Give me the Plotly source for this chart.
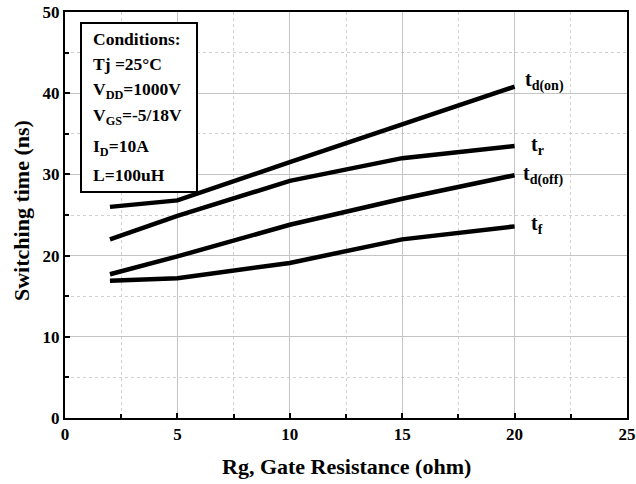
import plotly.graph_objects as go

rg = [2, 5, 10, 15, 20]
t_d_on = [26.0, 26.8, 31.5, 36.2, 40.8]
t_r = [22.0, 24.9, 29.2, 32.0, 33.5]
t_d_off = [17.7, 19.9, 23.8, 27.0, 29.9]
t_f = [16.9, 17.2, 19.1, 22.0, 23.6]

series = [
    ("t<sub>d(on)</sub>", t_d_on, 8, 6),
    ("t<sub>r</sub>", t_r, 14, 0),
    ("t<sub>d(off)</sub>", t_d_off, 6, 0),
    ("t<sub>f</sub>", t_f, 14, 2),
]

conditions = [
    "Conditions:",
    "Tj =25°C",
    "V<sub>DD</sub>=1000V",
    "V<sub>GS</sub>=-5/18V",
    "I<sub>D</sub>=10A",
    "L=100uH",
]

FONT = "Liberation Serif"

W, H = 636, 484
# plot area in window pixels: x 65..627, y 12..418
PX0, PX1, PY0, PY1 = 65, 627, 12, 418
def px(x):
    return (x - PX0) / (PX1 - PX0)
def py(y):
    return (PY1 - y) / (PY1 - PY0)

fig = go.Figure()
for name, ys, xsh, ysh in series:
    fig.add_trace(go.Scatter(x=rg, y=ys, mode="lines", name=name,
                             line=dict(color="black", width=4.5), showlegend=False))
    fig.add_annotation(x=rg[-1], y=ys[-1], xref="x", yref="y", text="<b>" + name + "</b>",
                       showarrow=False, xanchor="left", yanchor="middle", xshift=xsh, yshift=ysh,
                       font=dict(family=FONT, size=20, color="black"))

# conditions box
fig.add_shape(type="rect", xref="paper", yref="paper",
              x0=px(81), x1=px(197), y0=py(192), y1=py(23),
              line=dict(color="black", width=2), fillcolor="white", layer="above")
line_y = [39, 64, 90, 117, 147, 175]
for txt, yy in zip(conditions, line_y):
    fig.add_annotation(x=px(91), y=py(yy), xref="paper", yref="paper",
                       xanchor="left", yanchor="middle", text="<b>" + txt + "</b>",
                       showarrow=False, font=dict(family=FONT, size=17.5, color="black"))

axis_common = dict(
    showline=True, mirror=True, linecolor="black", linewidth=2,
    ticks="inside", ticklen=5, tickwidth=2, tickcolor="black",
    showgrid=True, gridcolor="#c4c4c4", gridwidth=1,
    zeroline=False, automargin=False, ticklabeloverflow="allow",
    tickfont=dict(family=FONT, size=17, color="black"),
    tickprefix="<b>", ticksuffix="</b>",
)

fig.update_xaxes(range=[0, 25], dtick=5, tick0=0,
                 minor=dict(dtick=2.5, ticks="inside", ticklen=4, tickwidth=2, tickcolor="black",
                            showgrid=True, gridcolor="#d0d0d0", griddash="dot"),
                 **axis_common)
fig.update_yaxes(range=[0, 50], dtick=10, tick0=0,
                 minor=dict(dtick=5, ticks="inside", ticklen=4, tickwidth=2, tickcolor="black",
                            showgrid=True, gridcolor="#d0d0d0", griddash="dot"),
                 **axis_common)

# axis titles
fig.add_annotation(x=px(346), y=py(467), xref="paper", yref="paper",
                   text="<b>Rg, Gate Resistance (ohm)</b>", showarrow=False,
                   xanchor="center", yanchor="middle",
                   font=dict(family=FONT, size=22, color="black"))
fig.add_annotation(x=px(21), y=py(211), xref="paper", yref="paper",
                   text="<b>Switching time (ns)</b>", showarrow=False, textangle=-90,
                   xanchor="center", yanchor="middle",
                   font=dict(family=FONT, size=22, color="black"))

fig.update_layout(
    width=W, height=H,
    margin=dict(l=PX0, r=W - PX1, t=PY0, b=H - PY1),
    plot_bgcolor="white", paper_bgcolor="white",
)

fig.write_html(
    "out.html",
    config={"displayModeBar": False},
    post_script="document.body.style.margin='0';document.body.style.overflow='hidden';"
                "document.documentElement.style.overflow='hidden';",
)
